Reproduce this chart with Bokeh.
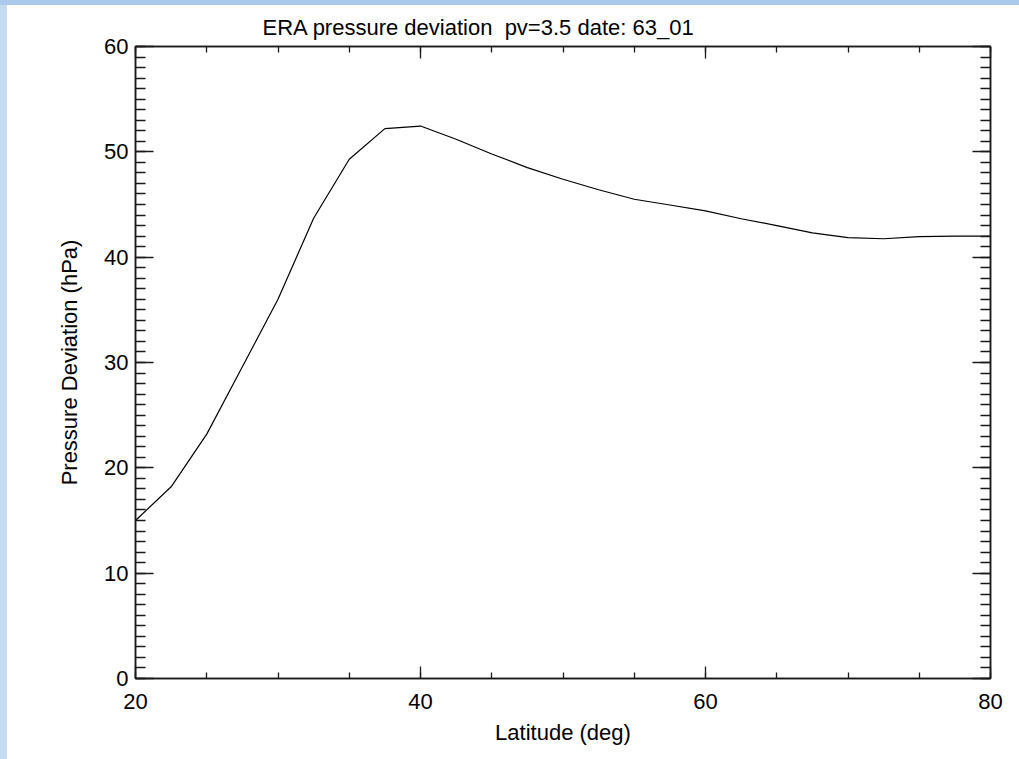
from bokeh.plotting import figure
from bokeh.models import (LinearAxis, SingleIntervalTicker, Range1d,
                          CustomLabelingPolicy)
from bokeh.embed import file_html
from bokeh.resources import INLINE

# Data
latitude = [20, 22.5, 25, 27.5, 30, 32.5, 35, 37.5, 40, 42.5, 45, 47.5, 50,
            52.5, 55, 57.5, 60, 62.5, 65, 67.5, 70, 72.5, 75, 77.5, 80]
deviation = [15.0, 18.2, 23.2, 29.6, 36.0, 43.7, 49.3, 52.2, 52.45, 51.2, 49.8,
             48.5, 47.4, 46.4, 45.5, 44.95, 44.4, 43.65, 43.0, 42.3, 41.85,
             41.75, 41.95, 42.0, 42.0]

x_range_vals = [20, 80]
y_range_vals = [0, 60]
title_text = "ERA pressure deviation \u00a0pv=3.5 date: 63_01"
x_label = "Latitude (deg)"
y_label = "Pressure Deviation (hPa)"

FONT = "Liberation Sans"
INK = "#1a1a1a"

p = figure(width=1012, height=754, output_backend="svg", toolbar_location=None,
           x_range=Range1d(*x_range_vals), y_range=Range1d(*y_range_vals),
           x_axis_location=None, y_axis_location=None,
           min_border_left=128, min_border_right=29, min_border_top=41,
           min_border_bottom=81)
# light blue window edge of the screenshot, drawn as a CSS shadow outside the plot
p.styles = {"margin-left": "7px", "margin-top": "5px",
            "box-shadow": "-7px 0 0 0 #c6daf2, 0 -5px 0 0 #aac9ed, -7px -5px 0 0 #aac9ed"}
p.xgrid.visible = False
p.ygrid.visible = False
p.background_fill_color = "white"
p.border_fill_color = "white"
p.outline_line_color = INK
p.outline_line_width = 1.5

p.title.text = title_text
p.title.text_font = FONT
p.title.text_font_size = "22px"
p.title.text_font_style = "normal"
p.title.text_color = "black"
p.title.align = "left"
p.title.offset = 127
p.title.standoff = 14

no_labels = CustomLabelingPolicy(code="""
try { for (let i = 0; i < indices.size; i++) { indices.unset(i) } } catch (e) {}
return indices
""")


def style_axis(ax, major_len, minor_len, show_labels):
    ax.axis_line_color = INK
    ax.axis_line_width = 1.5
    ax.major_tick_line_color = INK
    ax.minor_tick_line_color = INK
    ax.major_tick_line_width = 1.3
    ax.minor_tick_line_width = 1.3
    ax.major_tick_in = major_len
    ax.major_tick_out = 0
    ax.minor_tick_in = minor_len
    ax.minor_tick_out = 0
    ax.major_label_text_font = FONT
    ax.major_label_text_color = "black"
    if show_labels:
        ax.major_label_text_font_size = "22px"
    else:
        ax.major_label_text_font_size = "0px"
        ax.major_label_standoff = 0
        ax.major_label_policy = no_labels
    ax.axis_label_text_font = FONT
    ax.axis_label_text_font_size = "22px"
    ax.axis_label_text_font_style = "normal"
    ax.axis_label_text_color = "black"


xb = LinearAxis(ticker=SingleIntervalTicker(interval=20, num_minor_ticks=4),
                axis_label=x_label)
style_axis(xb, 12, 6, True)
xb.major_label_standoff = 15
xb.axis_label_standoff = 8
p.add_layout(xb, "below")

xt = LinearAxis(ticker=SingleIntervalTicker(interval=20, num_minor_ticks=4))
style_axis(xt, 12, 6, False)
p.add_layout(xt, "above")

yl = LinearAxis(ticker=SingleIntervalTicker(interval=10, num_minor_ticks=10),
                axis_label=y_label)
style_axis(yl, 18, 10, True)
yl.major_label_standoff = 7
yl.axis_label_standoff = 19
p.add_layout(yl, "left")

yr = LinearAxis(ticker=SingleIntervalTicker(interval=10, num_minor_ticks=10))
style_axis(yr, 18, 10, False)
p.add_layout(yr, "right")

p.line(latitude, deviation, line_color="black", line_width=1.2)

open("out.html", "w").write(file_html(p, INLINE))
